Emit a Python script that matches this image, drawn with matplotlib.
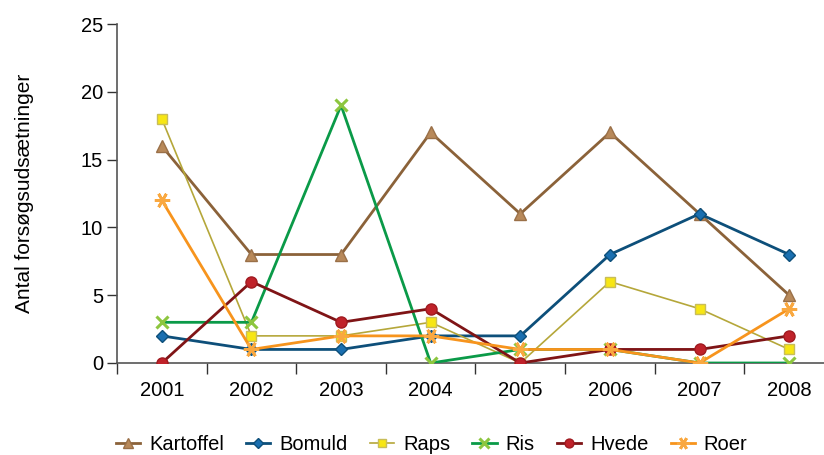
import matplotlib.pyplot as plt
from matplotlib.ticker import FixedLocator, NullFormatter

plt.rcParams['font.family'] = ['Liberation Sans', 'DejaVu Sans']

# data
years = ['2001', '2002', '2003', '2004', '2005', '2006', '2007', '2008']
kartoffel = [16, 8, 8, 17, 11, 17, 11, 5]
bomuld = [2, 1, 1, 2, 2, 8, 11, 8]
raps = [18, 2, 2, 3, 0, 6, 4, 1]
ris = [3, 3, 19, 0, 1, 1, 0, 0]
hvede = [0, 6, 3, 4, 0, 1, 1, 2]
roer = [12, 1, 2, 2, 1, 1, 0, 4]

x = list(range(1, len(years) + 1))

fig = plt.figure(figsize=(8.24, 4.55), dpi=100)
ax = fig.add_axes([117 / 824, 1 - 363 / 455, 717 / 824, 339 / 455])

ax.plot(x, kartoffel, color='#8b6239', lw=2, marker='^', ms=9,
        mfc='#b8895a', mec='#9a7048', label='Kartoffel', zorder=3)
ax.plot(x, bomuld, color='#0d4f7a', lw=2, marker='D', ms=6,
        mfc='#1a6fb0', mec='#0d4f7a', label='Bomuld', zorder=3)
ax.plot(x, raps, color='#b5a73a', lw=1.2, marker='s', ms=7,
        mfc='#f7e614', mec='#c8bd5a', label='Raps', zorder=3)
ax.plot(x, ris, color='#0a9a48', lw=2, marker='x', ms=9, mew=2.2,
        mec='#8dc63f', label='Ris', zorder=3)
ax.plot(x, hvede, color='#7f1416', lw=2, marker='o', ms=8,
        mfc='#c0222a', mec='#a01a20', label='Hvede', zorder=3)
ax.plot(x, roer, color='#f7941d', lw=2, marker=(6, 2, 90), ms=11, mew=2,
        mec='#f9a840', label='Roer', zorder=3)

ax.set_xlim(0.5, 8.5)
ax.set_ylim(0, 25)
ax.set_yticks([0, 5, 10, 15, 20, 25])

# tick marks between categories, labels on categories
ax.xaxis.set_major_locator(FixedLocator([i + 0.5 for i in range(0, 9)]))
ax.xaxis.set_major_formatter(NullFormatter())
ax.xaxis.set_minor_locator(FixedLocator(x))
ax.set_xticklabels(years, minor=True)
ax.tick_params(axis='x', which='minor', length=0, pad=13, labelsize=14.5)
ax.tick_params(axis='x', which='major', length=8, width=1, color='#333333')
ax.tick_params(axis='y', length=7, width=1, color='#333333', labelsize=14.5, pad=3)

for s in ['top', 'right']:
    ax.spines[s].set_visible(False)
for s in ['left', 'bottom']:
    ax.spines[s].set_color('#555555')
    ax.spines[s].set_linewidth(1.2)
ax.spines['bottom'].set_clip_on(False)

ax.set_ylabel('Antal forsøgsudsætninger', fontsize=15, labelpad=34)

leg = fig.legend(loc='center', bbox_to_anchor=(0.524, 0.022), ncol=6, frameon=False,
                 fontsize=14.5, handlelength=1.2, handletextpad=0.45,
                 columnspacing=1.1, markerscale=0.8)

fig.savefig('out.png', dpi=100)
